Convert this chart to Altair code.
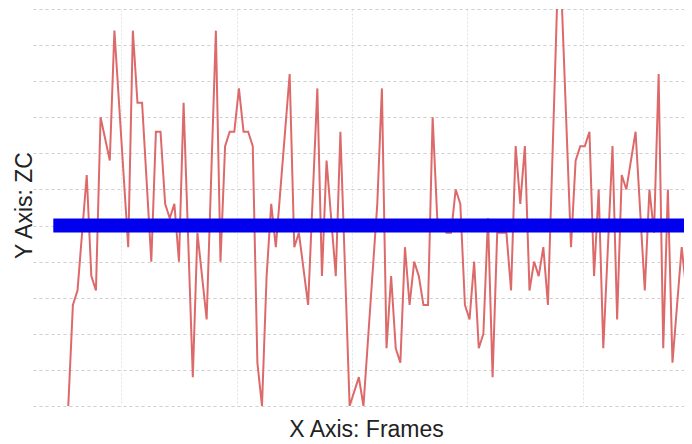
import altair as alt
import pandas as pd

# Zero-crossing count per frame
frames = [0, 1, 2, 4, 5, 6, 7, 9, 10, 13,
          14, 15, 16, 18, 19, 20, 21, 22, 23, 24,
          25, 27, 28, 30, 32, 33, 34, 35, 36, 37,
          38, 39, 40, 41, 42, 43, 44, 45, 48, 49,
          50, 52, 54, 55, 56, 58, 59, 61, 63, 64,
          67, 68, 69, 70, 71, 72, 73, 74, 75, 76,
          77, 78, 79, 80, 82, 83, 84, 85, 86, 87,
          88, 89, 90, 91, 92, 93, 95, 96, 97, 98,
          99, 100, 101, 102, 103, 104, 106, 107, 109, 110,
          111, 112, 113, 114, 115, 116, 118, 119, 120, 121,
          123, 125, 126, 127, 128, 129, 130, 131, 133, 134,
          135]
zc = [0, 7, 8, 16, 9, 8, 20, 17, 26, 11,
      26, 21, 21, 10, 19, 19, 14, 13, 14, 10,
      21, 2, 12, 6, 26, 10, 18, 19, 19, 22,
      19, 19, 18, 3, 0, 9, 14, 11, 23, 11,
      12, 7, 22, 9, 17, 9, 19, 0, 2, 0,
      14, 22, 4, 9, 4, 3, 11, 7, 10, 9,
      7, 7, 20, 13, 12, 12, 15, 14, 7, 6,
      10, 4, 5, 13, 2, 12, 12, 8, 18, 14,
      18, 8, 10, 9, 11, 7, 28, 28, 11, 17,
      18, 18, 19, 9, 15, 4, 18, 6, 16, 15,
      19, 8, 15, 12, 23, 4, 15, 3, 11, 8,
      20]

# Horizontal reference (threshold) line
threshold_frames = [-3.25, 140]
threshold_zc = [12.5, 12.5]

# Grid positions
y_grid = [0, 2.5, 5, 7.5, 10, 12.5, 15, 17.5, 20, 22.5, 25, 27.5]
x_grid = [11.5, 36.5, 61.5, 86.5, 111.5]

df = pd.DataFrame({"frame": frames, "zc": zc})
thr = pd.DataFrame({"frame": threshold_frames, "zc": threshold_zc})

x_enc = alt.X(
    "frame:Q",
    scale=alt.Scale(domain=[-7.65, 133.5], nice=False, zero=False),
    axis=alt.Axis(
        values=x_grid, labels=False, ticks=False, domain=False, grid=True,
        gridColor="#e2e2e2", gridDash=[2, 2], gridWidth=1,
        title="X Axis: Frames", titleFont="Liberation Sans", titleFontSize=23,
        titleFontWeight="normal", titleColor="#222222",
        titleX=333, titleY=30, titleAlign="center", titleBaseline="alphabetic",
    ),
)
y_enc = alt.Y(
    "zc:Q",
    scale=alt.Scale(domain=[0, 27.5], nice=False, zero=False),
    axis=alt.Axis(
        values=y_grid, labels=False, ticks=False, domain=False, grid=True,
        gridColor="#cfcfcf", gridDash=[3, 3], gridWidth=1,
        title="Y Axis: ZC", titleFont="Liberation Sans", titleFontSize=23,
        titleFontWeight="normal", titleColor="#222222",
        titleAngle=270, titleX=-2, titleY=196, titleAlign="center",
        titleBaseline="alphabetic",
    ),
)

zc_line = alt.Chart(df).mark_line(
    color="#dd6a6a", strokeWidth=2, clip=True
).encode(x=x_enc, y=y_enc)

thr_line = alt.Chart(thr).mark_line(
    color="#0000ee", strokeWidth=14, strokeCap="butt", clip=True
).encode(x=x_enc, y=y_enc)

chart = alt.layer(zc_line, thr_line).properties(
    width=651,
    height=397,
    padding={"left": 25, "top": 1, "right": 0, "bottom": 36},
    autosize=alt.AutoSizeParams(type="none"),
    background="white",
).configure_view(stroke=None)

chart.save("out.html", embed_options={"renderer": "svg", "actions": False})
